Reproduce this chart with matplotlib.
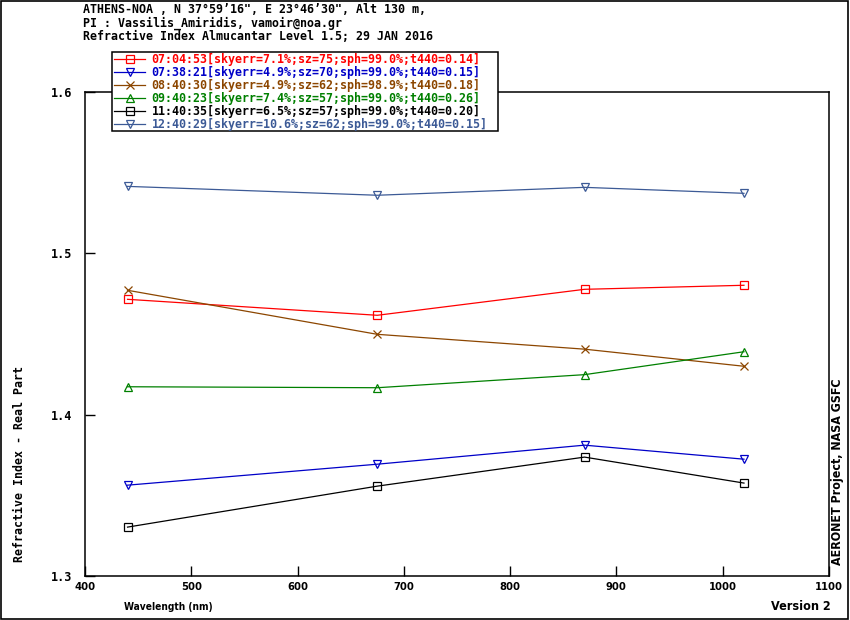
import matplotlib
matplotlib.use("Agg")
import matplotlib.pyplot as plt
from matplotlib.patches import Rectangle

# wavelengths (nm) and real part of refractive index per almucantar scan
wavelengths = [440, 675, 870, 1020]
labels = [
    "07:04:53[skyerr=7.1%;sz=75;sph=99.0%;t440=0.14]",
    "07:38:21[skyerr=4.9%;sz=70;sph=99.0%;t440=0.15]",
    "08:40:30[skyerr=4.9%;sz=62;sph=98.9%;t440=0.18]",
    "09:40:23[skyerr=7.4%;sz=57;sph=99.0%;t440=0.26]",
    "11:40:35[skyerr=6.5%;sz=57;sph=99.0%;t440=0.20]",
    "12:40:29[skyerr=10.6%;sz=62;sph=99.0%;t440=0.15]",
]
n_0704 = [1.4715, 1.4616, 1.4777, 1.4802]
n_0738 = [1.3563, 1.3693, 1.3811, 1.3724]
n_0840 = [1.4771, 1.4498, 1.4406, 1.4300]
n_0940 = [1.4173, 1.4167, 1.4248, 1.4390]
n_1140 = [1.3303, 1.3557, 1.3737, 1.3576]
n_1240 = [1.5415, 1.5360, 1.5409, 1.5372]
series = [n_0704, n_0738, n_0840, n_0940, n_1140, n_1240]

colors = ["#ff0000", "#0000c8", "#8c4600", "#008000", "#000000", "#3c5a96"]
markers = ["s", "v", "x", "^", "s", "v"]

mono = "DejaVu Sans Mono"
plt.rcParams["font.family"] = mono
plt.rcParams["font.weight"] = "bold"
narrow = dict(family="DejaVu Sans", stretch="condensed", weight="bold")

fig = plt.figure(figsize=(8.5, 6.2), dpi=100)
ax = fig.add_axes([85 / 850, 1 - 576 / 620, (829 - 85) / 850, (576 - 92) / 620])

for vals, lab, c, m in zip(series, labels, colors, markers):
    ax.plot(wavelengths, vals, color=c, marker=m, markersize=6 if m != "s" else 5.5,
            markerfacecolor="none", markeredgecolor=c, markeredgewidth=0.9,
            linewidth=0.9, label=lab)

ax.set_xlim(400, 1100)
ax.set_ylim(1.3, 1.6)
ax.set_xticks(range(400, 1101, 100))
ax.set_yticks([1.3, 1.4, 1.5, 1.6])
ax.set_yticklabels(["1.3", "1.4", "1.5", "1.6"])
ax.tick_params(direction="in", length=7, width=1, labelsize=8.5)
ax.tick_params(axis="x", pad=4)
ax.tick_params(axis="y", pad=9)
for t in ax.get_xticklabels():
    t.set_fontproperties(dict(narrow, size=8))
for s in ax.spines.values():
    s.set_linewidth(1.1)

leg = ax.legend(loc="upper left", bbox_to_anchor=(112 / 850, 1 - 50.7 / 620),
                bbox_transform=fig.transFigure, frameon=False,
                borderpad=0.2, labelspacing=0.0, handlelength=2.6, handletextpad=0.6,
                borderaxespad=0, prop={"family": mono, "weight": "bold", "size": 8.4})
for txt, c in zip(leg.get_texts(), colors):
    txt.set_color(c)
leg.set_zorder(10)

# legend box, white, drawn over the top spine
ax.add_patch(Rectangle((112 / 850, 1 - 131 / 620), (498 - 112) / 850, (131 - 52) / 620,
                       transform=fig.transFigure, facecolor="white", edgecolor="black",
                       linewidth=1.1, clip_on=False, zorder=9))

title_lines = [
    "ATHENS-NOA , N 37\u00b059\u201916\", E 23\u00b046\u201930\", Alt 130 m,",
    "PI : Vassilis_Amiridis, vamoir@noa.gr",
    "Refractive Index Almucantar Level 1.5; 29 JAN 2016",
]
for i, line in enumerate(title_lines):
    fig.text(83 / 850, 1 - (9.5 + 13.3 * i) / 620, line, fontsize=8.4,
             ha="left", va="center", color="black")

fig.text(20 / 850, 1 - 562 / 620, "Refractive Index - Real Part", rotation=90,
         ha="center", va="bottom", fontsize=8.4)
fig.text(838 / 850, 1 - 565 / 620, "AERONET Project, NASA GSFC", rotation=90,
         ha="center", va="bottom", fontproperties=dict(narrow, size=8.9))
fig.text(124 / 850, 1 - 607 / 620, "Wavelength (nm)", ha="left", va="center",
         fontproperties=dict(narrow, size=7.3))
fig.text(831 / 850, 1 - 607 / 620, "Version 2", ha="right", va="center",
         fontproperties=dict(narrow, size=9))

fig.patches.append(Rectangle((0.001, 0.001), 0.997, 0.997, transform=fig.transFigure,
                             fill=False, edgecolor="black", linewidth=1.2))

fig.savefig("out.png", dpi=100)
